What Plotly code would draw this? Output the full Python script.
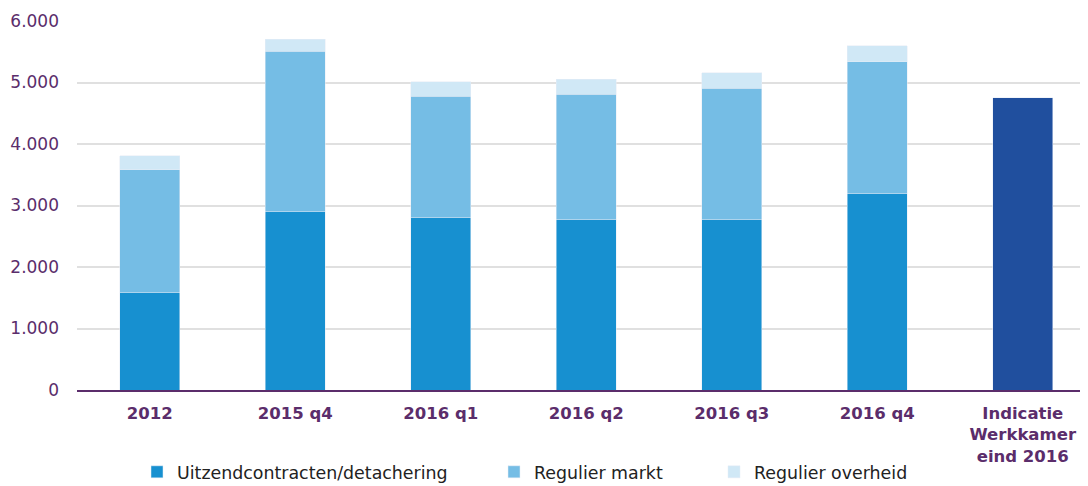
import plotly.graph_objects as go

categories = ["2012", "2015 q4", "2016 q1", "2016 q2", "2016 q3", "2016 q4",
              "Indicatie<br>Werkkamer<br>eind 2016"]
uitzend = [1580, 2900, 2800, 2770, 2770, 3190, None]
regulier_markt = [2000, 2610, 1980, 2040, 2140, 2145, None]
regulier_overheid = [225, 195, 230, 245, 245, 260, None]
indicatie = [None, None, None, None, None, None, 4750]

tick_vals = [0, 1000, 2000, 3000, 4000, 5000, 6000]
tick_text = ["0", "1.000", "2.000", "3.000", "4.000", "5.000", "6.000"]

purple = "#5b2d6b"
font_family = "DejaVu Sans, Verdana, sans-serif"

# page body has an 8px margin; the figure fills the rest of the window
OFF = 8
W, H = 1088 - OFF, 486 - OFF
L, T = 77 - OFF, 21 - OFF
R = 0
ph = 369
B = H - T - ph
pw = W - L - R

def px_x(x_page):
    return (x_page - OFF - L) / pw

def px_y(y_page):
    return -((y_page - OFF) - (T + ph)) / ph

# the reference's plot area runs past the right edge of the picture
cat_px = 145.5
x_range = [-0.5, -0.5 + pw / cat_px]

fig = go.Figure()
fig.add_trace(go.Bar(x=categories, y=uitzend, name="Uitzendcontracten/detachering",
                     marker=dict(color="#1790d0"), legend="legend"))
fig.add_trace(go.Bar(x=categories, y=regulier_markt, name="Regulier markt",
                     marker=dict(color="#75bde5"), legend="legend2"))
fig.add_trace(go.Bar(x=categories, y=regulier_overheid, name="Regulier overheid",
                     marker=dict(color="#d0e8f6"), legend="legend3"))
fig.add_trace(go.Bar(x=categories, y=indicatie, name="Indicatie", showlegend=False,
                     marker=dict(color="#204f9e")))

leg_common = dict(orientation="h", xanchor="left", y=px_y(472), yanchor="middle",
                  font=dict(size=17.4, color="#222222"), itemwidth=30,
                  bgcolor="rgba(0,0,0,0)")

fig.update_layout(
    width=W, height=H,
    barmode="stack", bargap=0.59,
    plot_bgcolor="white", paper_bgcolor="white",
    margin=dict(l=L, r=R, t=T, b=B, autoexpand=False),
    font=dict(family=font_family, size=17, color=purple),
    showlegend=True,
    legend=dict(x=px_x(137), **leg_common),
    legend2=dict(x=px_x(494), **leg_common),
    legend3=dict(x=px_x(714), **leg_common),
)
fig.update_yaxes(range=[0, 6000], tickvals=tick_vals, ticktext=tick_text,
                 showgrid=True, gridcolor="#e0e0e0", gridwidth=1.5,
                 zeroline=False, showline=False, ticks="",
                 ticklabelstandoff=17, automargin=False,
                 tickfont=dict(size=17, color=purple))
fig.update_xaxes(range=x_range, showline=True, linecolor=purple, linewidth=2, ticks="",
                 ticklabelstandoff=7, automargin=False,
                 tickfont=dict(size=16.5, color=purple, weight="bold"))

fig.write_html(
    "out.html",
    post_script="document.documentElement.style.overflow='hidden';"
                "document.body.style.overflow='hidden';",
)
